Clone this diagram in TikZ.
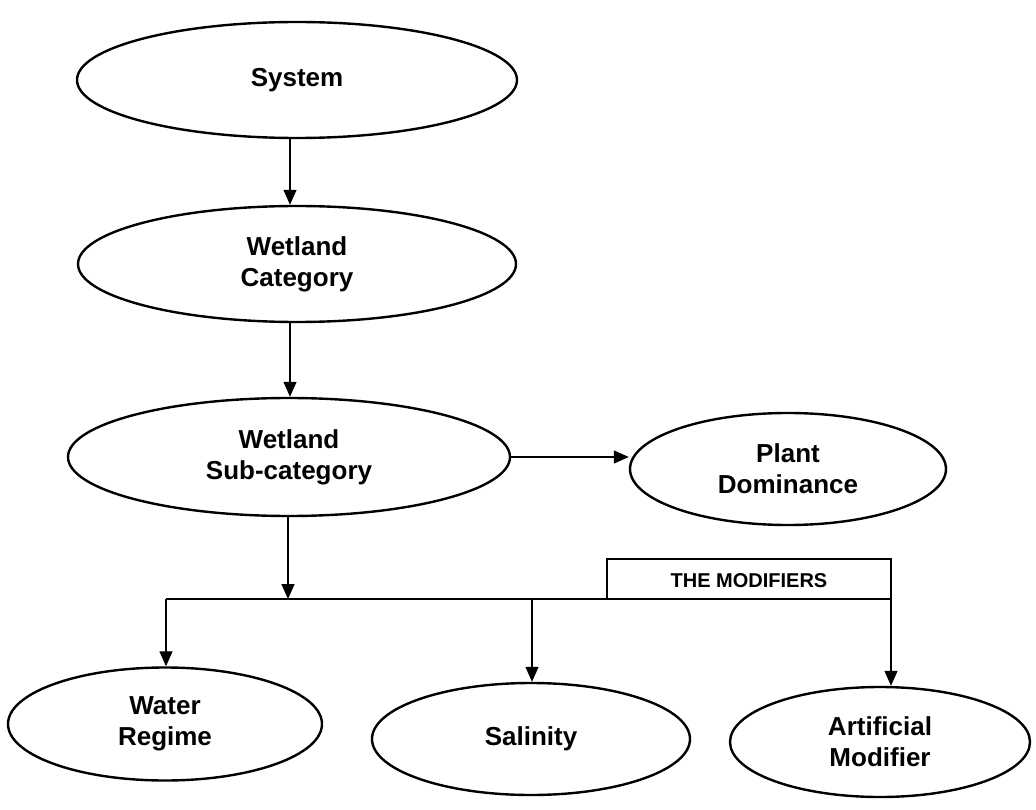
\documentclass[tikz,border=0pt]{standalone}
\usepackage{fontspec}
\setmainfont{Liberation Sans}
\usetikzlibrary{shapes.geometric,arrows.meta}
\begin{document}
\begin{tikzpicture}[x=1pt,y=-1pt,
  oval/.style={ellipse,draw,line width=2.4pt,inner sep=0pt,align=center,
    font=\fontsize{26}{31}\selectfont\bfseries},
  arr/.style={line width=1.3pt,-{Triangle[length=15pt,width=13pt]}},
  ln/.style={line width=1.3pt}]
\useasboundingbox (0,0) rectangle (1036,810);
\node[oval,minimum width=440pt,minimum height=116pt] (sys) at (297,80) {System};
\node[oval,minimum width=438pt,minimum height=116pt] (cat) at (297,264) {Wetland\\Category};
\node[oval,minimum width=442pt,minimum height=118pt] (sub) at (289,457) {Wetland\\Sub-category};
\node[oval,minimum width=316pt,minimum height=112pt] (plant) at (788,469) {Plant\\Dominance};
\node[oval,minimum width=314pt,minimum height=113pt] (water) at (165,724) {Water\\Regime};
\node[oval,minimum width=318pt,minimum height=112pt] (sal) at (531,739) {Salinity};
\node[oval,minimum width=300pt,minimum height=110pt] (art) at (880,742) {Artificial\\Modifier};
\coordinate (c1) at (290,0);
\coordinate (bsub) at (288,0);
\coordinate (bL) at (166,599);
\coordinate (bM) at (532,599);
\coordinate (bR) at (891,599);
\coordinate (bJ) at (288,599);
\coordinate (boxL) at (607,599);
\draw[arr] (sys.south -| c1) -- (cat.north -| c1);
\draw[arr] (cat.south -| c1) -- (sub.north -| c1);
\draw[arr] (sub.east) -- (sub.east -| plant.west);
\draw[arr] (sub.south -| bsub) -- (bJ);
\draw[ln] (bL) -- (bR);
\draw[arr] (bL) -- (bL |- water.north);
\draw[arr] (bM) -- (bM |- sal.north);
\draw[arr] (bR) -- (bR |- art.north);
\draw[ln] (boxL) -- (607,559) -- (891,559) -- (bR);
\node[font=\fontsize{20}{24}\selectfont\bfseries] (mod) at (749,581) {THE MODIFIERS};
\end{tikzpicture}
\end{document}
